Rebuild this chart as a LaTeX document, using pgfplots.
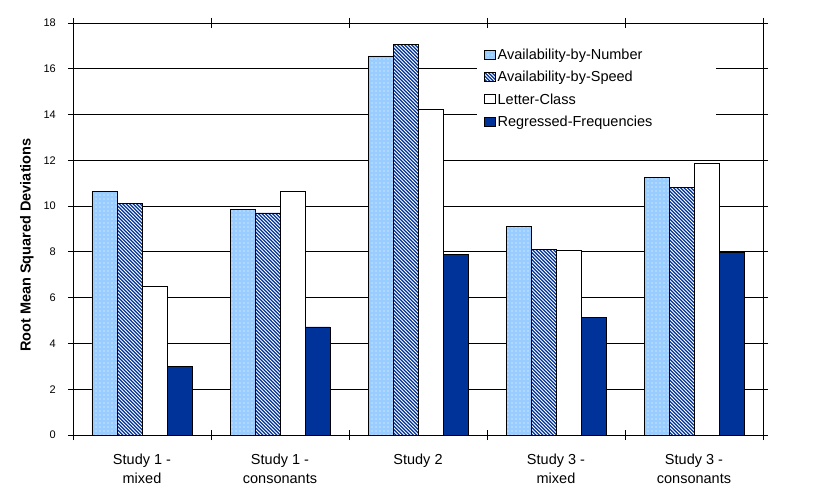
\documentclass[border=0pt]{standalone}
\usepackage{pgfplots}
\pgfplotsset{compat=1.18}
\usepackage{fontspec}
\setmainfont{Liberation Sans}
\usetikzlibrary{patterns}

\definecolor{lightblue}{HTML}{99CCFF}
\definecolor{darkblue}{HTML}{003399}

% white dots on light blue
\pgfdeclarepatternformonly{wdots}{\pgfqpoint{-1bp}{-1bp}}{\pgfqpoint{1bp}{1bp}}{\pgfqpoint{4bp}{4bp}}%
{\pgfpathcircle{\pgfqpoint{0bp}{0bp}}{0.6bp}\pgfusepath{fill}}
% white diagonal lines on dark blue
\pgfdeclarepatternformonly{wlines}{\pgfqpoint{-1bp}{-1bp}}{\pgfqpoint{4.5bp}{4.5bp}}{\pgfqpoint{3.5bp}{3.5bp}}%
{\pgfsetlinewidth{0.8bp}\pgfpathmoveto{\pgfqpoint{-0.1bp}{3.6bp}}\pgfpathlineto{\pgfqpoint{3.6bp}{-0.1bp}}\pgfusepath{stroke}}

\begin{document}
\begin{tikzpicture}
\begin{axis}[
  scale only axis,
  width=690bp, height=412bp,
  ybar=0pt, bar width=25bp,
  xmin=-0.5, xmax=4.5,
  ymin=0, ymax=18,
  ytick={0,2,...,18},
  xtick={-0.5,0.5,...,4.5},
  x tick label as interval,
  xticklabels={{Study 1 -\\mixed},{Study 1 -\\consonants},{Study 2},{Study 3 -\\mixed},{Study 3 -\\consonants}},
  xticklabel style={align=center, font=\fontsize{14.5bp}{19bp}\selectfont, inner sep=0pt, yshift=-14bp},
  yticklabel style={font=\fontsize{11bp}{13bp}\selectfont, inner sep=0pt, xshift=-12bp},
  /pgf/number format/assume math mode=true,
  tick align=center,
  major tick length=10bp,
  tick style={black, line width=0.9bp},
  axis line style={line width=0.9bp},
  ymajorgrids,
  grid style={black, line width=0.9bp},
  ylabel={\textbf{Root Mean Squared Deviations}},
  ylabel style={font=\fontsize{14.5bp}{17bp}\selectfont, at={(rel axis cs:0,0.461)}, anchor=center, yshift=46bp},
  legend style={at={(rel axis cs:0.585,0.957)}, anchor=north west, draw=none, fill=white,
    font=\fontsize{14.5bp}{17bp}\selectfont, row sep=6.5bp, inner xsep=7bp, inner ysep=6bp,
    cells={anchor=west}},
  legend image code/.code={\draw[#1, line width=0.8bp] (0bp,-4bp) rectangle (11bp,5bp);},
  every axis plot/.append style={draw=black, line width=0.9bp},
]
\addplot[fill=lightblue, postaction={pattern=wdots, pattern color=white}] coordinates {
  (0,10.62) (1,9.84) (2,16.56) (3,9.11) (4,11.24)
};
\addplot[fill=darkblue, postaction={pattern=wlines, pattern color=white}] coordinates {
  (0,10.1) (1,9.7) (2,17.05) (3,8.1) (4,10.8)
};
\addplot[fill=white] coordinates {
  (0,6.48) (1,10.62) (2,14.24) (3,8.05) (4,11.86)
};
\addplot[fill=darkblue] coordinates {
  (0,2.98) (1,4.72) (2,7.87) (3,5.12) (4,7.97)
};
\legend{Availability-by-Number, Availability-by-Speed, Letter-Class, Regressed-Frequencies\hspace*{55bp}}
\coordinate (ll) at (rel axis cs:0,0);
\coordinate (ur) at (rel axis cs:1,1);
\end{axis}
\path (ll) ++(-73bp,-68bp);
\path (ur) ++(54bp,23bp);
\end{tikzpicture}
\end{document}
